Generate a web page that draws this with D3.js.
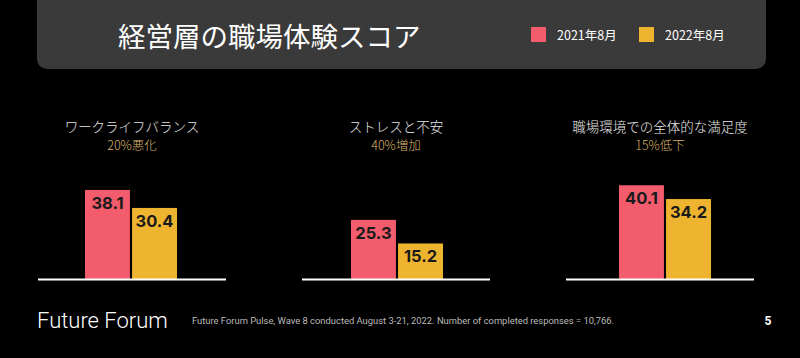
<!DOCTYPE html>
<html><head><meta charset="utf-8">
<script src="https://cdn.jsdelivr.net/npm/d3@7"></script>
<style>
html,body{margin:0;padding:0;background:#000;}
svg{display:block;}
</style></head>
<body>
<svg id="c" width="800" height="358"></svg>
<script>
const categories = ["ワークライフバランス", "ストレスと不安", "職場環境での全体的な満足度"];
const changes = ["20%悪化", "40%増加", "15%低下"];
const series = ["2021年8月", "2022年8月"];
const values2021 = [38.1, 25.3, 40.1];
const values2022 = [30.4, 15.2, 34.2];
const colors = ["#f25c6c", "#efb42f"];

const svg = d3.select("#c");
const jp = "'Noto Sans CJK JP','Noto Sans',sans-serif";

// header panel
svg.append("rect").attr("x", 37).attr("y", -20).attr("width", 729).attr("height", 89)
  .attr("rx", 10).attr("fill", "#3a3a3a");
svg.append("text").attr("x", 118).attr("y", 47).attr("fill", "#fff")
  .attr("font-family", jp).attr("font-size", 27.5).attr("font-weight", 400)
  .text("経営層の職場体験スコア");

const legX = [531, 639];
series.forEach((s, i) => {
  svg.append("rect").attr("x", legX[i]).attr("y", 27).attr("width", 15).attr("height", 15).attr("fill", colors[i]);
  svg.append("text").attr("x", legX[i] + 26).attr("y", 39.5).attr("fill", "#fff")
    .attr("font-family", jp).attr("font-size", 12.5).text(s);
});

// panels
const panelX = [38, 302, 566];
const barStart = [85, 351, 619];
const panelW = 188;
const baseY = 279;
const y = d3.scaleLinear().domain([0, 40]).range([baseY, baseY - 93.5]);

categories.forEach((cat, ci) => {
  const g = svg.append("g").attr("transform", `translate(${panelX[ci]},0)`);
  const off = barStart[ci] - panelX[ci];
  const x = d3.scaleBand().domain(series).range([off, off + 92]).paddingInner(0.045);
  const vals = [values2021[ci], values2022[ci]];
  g.append("text").attr("x", panelW / 2).attr("y", 132).attr("text-anchor", "middle")
    .attr("fill", "#e8e8e8").attr("font-family", jp).attr("font-size", 13.5).attr("font-weight", 300)
    .text(cat);
  g.append("text").attr("x", panelW / 2).attr("y", 150).attr("text-anchor", "middle")
    .attr("fill", "#d9b26c").attr("font-family", jp).attr("font-size", 12.5).attr("font-weight", 300)
    .text(changes[ci]);
  g.selectAll("rect.bar").data(vals).join("rect").attr("class", "bar")
    .attr("x", (d, i) => x(series[i])).attr("width", x.bandwidth())
    .attr("y", d => y(d)).attr("height", d => baseY - y(d))
    .attr("fill", (d, i) => colors[i]);
  g.selectAll("text.val").data(vals).join("text").attr("class", "val")
    .attr("x", (d, i) => x(series[i]) + x.bandwidth() / 2)
    .attr("y", d => y(d) + 19)
    .attr("text-anchor", "middle").attr("fill", "#1a1a1a")
    .attr("font-family", "Inter, 'Liberation Sans', sans-serif").attr("font-size", 16.5).attr("font-weight", 700)
    .text(d => d3.format(".1f")(d));
  g.append("line").attr("x1", 0).attr("x2", panelW).attr("y1", baseY + 0.5).attr("y2", baseY + 0.5)
    .attr("stroke", "#fff").attr("stroke-width", 2);
});

// footer
svg.append("text").attr("x", 37).attr("y", 328).attr("fill", "#fff")
  .attr("font-family", "Roboto, 'Open Sans', sans-serif").attr("font-size", 22).attr("font-weight", 300)
  .text("Future Forum");
svg.append("text").attr("x", 192).attr("y", 324).attr("fill", "#bbb")
  .attr("font-family", "Roboto, 'Liberation Sans', sans-serif").attr("font-size", 9.4)
  .text("Future Forum Pulse, Wave 8 conducted August 3-21, 2022. Number of completed responses = 10,766.");
svg.append("text").attr("x", 768).attr("y", 325).attr("text-anchor", "middle").attr("fill", "#fff")
  .attr("font-family", "Roboto, sans-serif").attr("font-size", 12).attr("font-weight", 700)
  .text("5");
</script>
</body></html>
